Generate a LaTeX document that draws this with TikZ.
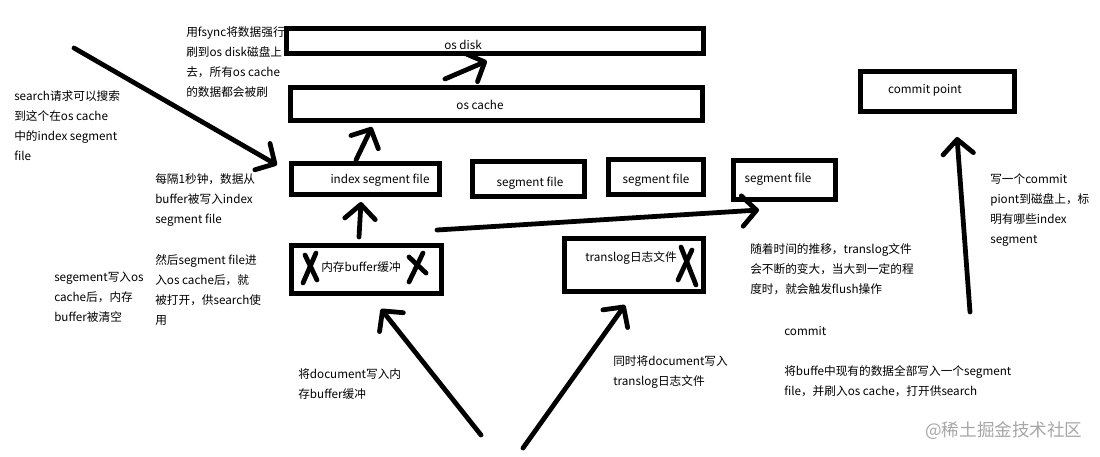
\documentclass[tikz,border=0pt]{standalone}
\usepackage{fontspec}
\setmainfont{Noto Sans CJK SC}
\usetikzlibrary{arrows.meta, calc}

\begin{document}
\begin{tikzpicture}[
        x=0.025cm, y=-0.025cm,
        >={Straight Barb[length=3.6mm, width=7.6mm, round]},
        box/.style={draw, line width=3.4pt, inner sep=0pt, outer sep=0pt},
        flow/.style={->, line width=3.4pt, line cap=round},
        cross/.style={line width=3.4pt, line cap=round},
        boxtext/.style={font=\fontsize{8.3}{14}\selectfont, inner sep=0pt},
        note/.style={font=\fontsize{8.3}{14.2}\selectfont, align=left, anchor=west, inner sep=0pt}
    ]
        \useasboundingbox (0,0) rectangle (1100,456);

        % storage boxes
        \node[box, minimum width=10.425cm, minimum height=0.625cm] (disk) at (495,41) {};
        \node[box, minimum width=10.3cm, minimum height=0.825cm] (cache) at (496.5,104) {};
        \node[box, minimum width=3.7cm, minimum height=0.775cm] (idx) at (365.5,179) {};
        \node[box, minimum width=2.8cm, minimum height=0.875cm] (seg1) at (528.5,179) {};
        \node[box, minimum width=2.375cm, minimum height=0.875cm] (seg2) at (656,177) {};
        \node[box, minimum width=2.55cm, minimum height=0.975cm] (seg3) at (784.5,180) {};
        \node[box, minimum width=3.75cm, minimum height=1.2cm] (buf) at (366.5,269.5) {};
        \node[box, minimum width=3.475cm, minimum height=1.325cm] (tlog) at (634,265) {};
        \node[box, minimum width=3.85cm, minimum height=1cm] (point) at (937.5,91.5) {};

        \node[boxtext] (disktext) at ($(disk.center)+(-32,4)$) {os disk};
        \node[boxtext] (cachetext) at ($(cache.center)+(-16.5,1)$) {os cache};
        \node[boxtext] (idxtext) at ($(idx.center)+(14.5,1)$) {index segment file};
        \node[boxtext] (seg1text) at ($(seg1.center)+(1.5,4)$) {segment file};
        \node[boxtext] (seg2text) at ($(seg2.center)+(0,3)$) {segment file};
        \node[boxtext] (seg3text) at ($(seg3.center)+(-6.5,-1)$) {segment file};
        \node[boxtext] (buftext) at ($(buf.center)+(-5.5,-2.5)$) {内存buffer缓冲};
        \node[boxtext] (tlogtext) at ($(tlog.center)+(-3,-7)$) {translog日志文件};
        \node[boxtext] (pointtext) at ($(point.center)+(-12.5,-1.5)$) {commit point};

        % crossed out
        \draw[cross] (305,255) -- (317,280);
        \draw[cross] (316,253) -- (303,283);
        \draw[cross] (409,257) -- (426,273);
        \draw[cross] (423,253) -- (409,282);
        \draw[cross] (681,247) -- (696,285);
        \draw[cross] (692,250) -- (678,280);

        % notes
        \node[note] (fsyncnote) at (186,62) {用fsync将数据强行\\刷到os disk磁盘上\\去，所有os cache\\的数据都会被刷};
        \node[note] (searchnote) at (14,125.5) {search请求可以搜索\\到这个在os cache\\中的index segment\\file};
        \node[note] (secnote) at (155,200) {每隔1秒钟，数据从\\buffer被写入index\\segment file};
        \node[note] (clearnote) at (54,297) {segement写入os\\cache后，内存\\buffer被清空};
        \node[note] (opennote) at (155,290) {然后segment file进\\入os cache后，就\\被打开，供search使\\用};
        \node[note] (bufnote) at (298,384) {将document写入内\\存buffer缓冲};
        \node[note] (lognote) at (613,372) {同时将document写入\\translog日志文件};
        \node[note] (grownote) at (750,269) {随着时间的推移，translog文件\\会不断的变大，当大到一定的程\\度时，就会触发flush操作};
        \node[note] (commitnote) at (784,331) {commit};
        \node[note] (flushnote) at (784,381.5) {将buffe中现有的数据全部写入一个segment\\file，并刷入os cache，打开供search};
        \node[note] (pointnote) at (990,210) {写一个commit\\piont到磁盘上，标\\明有哪些index\\segment};
        \node[note, font=\fontsize{12.5}{14}\selectfont, text=black!35] (mark) at (925,431) {@稀土掘金技术社区};

        % flows
        \coordinate (searchfrom) at (74,48);
        \coordinate (docfrom) at (481,435);
        \coordinate (logfrom) at (523,448);
        \coordinate (pointfrom) at (970,312);

        \draw[flow] (searchfrom) -- ($(idx.west)+(-14.5,-14)$);
        \draw[flow] ($(idx.north)+(-9.5,-3.5)$) -- ($(cache.south west)+(81.5,6.5)$);
        \draw[flow] ($(cache.north west)+(154.5,-8.5)$) -- ($(disk.south west)+(200.5,7.5)$);
        \draw[flow] ($(buf.north)+(-7.5,-8.5)$) -- ($(idx.south)+(-4.5,7.5)$);
        \draw[flow] ($(buf.north east)+(-4.5,-15.5)$) -- ($(seg3.south west)+(25.5,10.5)$);
        \draw[flow] (docfrom) -- ($(buf.south)+(14.5,15.5)$);
        \draw[flow] (logfrom) -- ($(tlog.south)+(-9,13.5)$);
        \draw[flow] (pointfrom) -- ($(point.south)+(19.5,25.5)$);
    \end{tikzpicture}
\end{document}
